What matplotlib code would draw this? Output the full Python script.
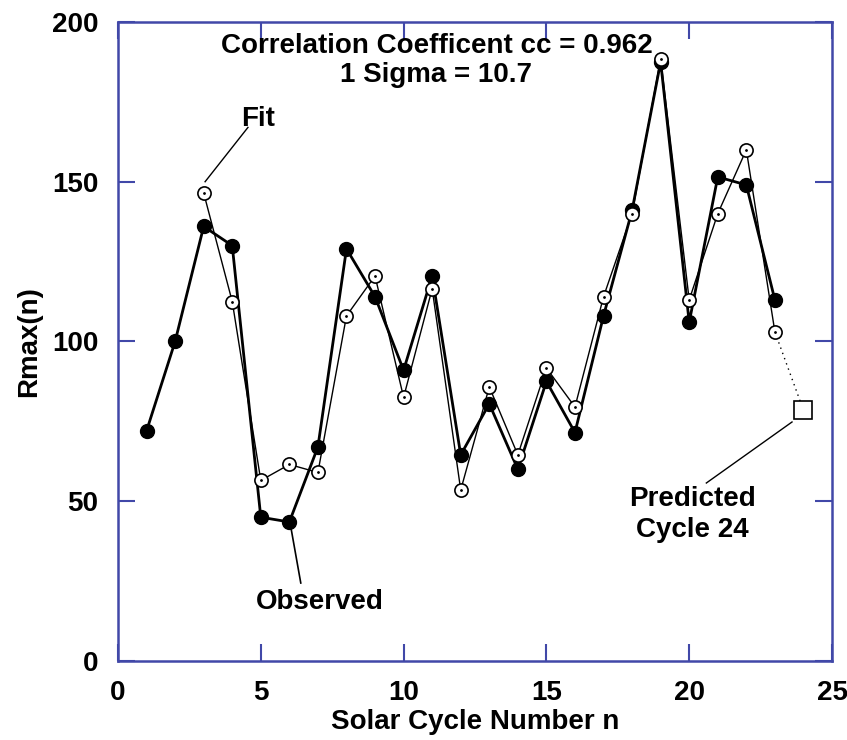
import numpy as np
import matplotlib
matplotlib.use("Agg")
import matplotlib.pyplot as plt

plt.rcParams['font.family'] = ['Liberation Sans', 'DejaVu Sans']
plt.rcParams['font.weight'] = 'bold'

# observed maximum sunspot number per cycle
obs_n = np.arange(1, 24)
obs_r = [72, 100, 136, 130, 45, 43.5, 67, 129, 114, 91, 120.5, 64.5, 80.5,
         60, 87.5, 71.5, 108, 141, 187.5, 106, 151.5, 149, 113]

# fitted values (start at cycle 3)
fit_n = np.arange(3, 24)
fit_r = [146.5, 112.5, 56.5, 61.5, 59, 108, 120.5, 82.5, 116.5, 53.5, 85.8,
         64.5, 91.7, 79.5, 114, 140, 188.5, 113, 140, 160, 103]

pred_n = 24
pred_r = 78.5

spine_col = '#4148a8'

fig = plt.figure(figsize=(8.47, 7.40), dpi=100)
ax = fig.add_axes([0.1393, 0.1068, 0.843, 0.8635])

ax.plot(obs_n, obs_r, color='black', lw=2, marker='o', ms=10,
        mfc='black', mec='black', zorder=3)
ax.plot(fit_n, fit_r, color='black', lw=1, marker='o', ms=9.5,
        mfc='white', mec='black', mew=1.2, zorder=4)
ax.plot(fit_n, fit_r, ls='none', marker='.', ms=2, color='black', zorder=5)
ax.plot([fit_n[-1], pred_n], [fit_r[-1], pred_r], color='black', lw=1,
        ls=(0, (1, 3)), zorder=2)
ax.plot([pred_n], [pred_r], marker='s', ms=13, mfc='white', mec='black',
        mew=1.2, zorder=4)

# annotation leader lines
ax.plot([3.05, 4.55], [150, 167], color='black', lw=1)
ax.plot([6.05, 6.4], [42, 24.4], color='black', lw=1.2)
ax.plot([23.6, 20.6], [74.8, 55.7], color='black', lw=1)

fs = 20
ax.text(4.9, 169.5, 'Fit', fontsize=fs, fontweight='bold', ha='center', va='center')
ax.text(7.05, 18.5, 'Observed', fontsize=fs, fontweight='bold', ha='center', va='center')
ax.text(20.1, 46.0, 'Predicted\nCycle 24', fontsize=fs, fontweight='bold',
        ha='center', va='center', linespacing=1.25)
ax.text(11.15, 192.5, 'Correlation Coefficent cc = 0.962', fontsize=fs,
        fontweight='bold', ha='center', va='center')
ax.text(11.15, 183.5, '1 Sigma = 10.7', fontsize=fs, fontweight='bold',
        ha='center', va='center')

ax.set_xlim(0, 25)
ax.set_ylim(0, 200)
ax.set_xticks([0, 5, 10, 15, 20, 25])
ax.set_yticks([0, 50, 100, 150, 200])
ax.tick_params(direction='in', length=12, width=1.5, color=spine_col,
               top=True, right=True, labelsize=fs)
ax.tick_params(axis='x', pad=14)
ax.tick_params(axis='y', pad=14)
for lab in ax.get_xticklabels() + ax.get_yticklabels():
    lab.set_fontweight('bold')
for sp in ax.spines.values():
    sp.set_color(spine_col)
    sp.set_linewidth(1.8)

ax.set_xlabel('Solar Cycle Number n', fontsize=fs, fontweight='bold', labelpad=2)
ax.set_ylabel('Rmax(n)', fontsize=fs, fontweight='bold', labelpad=7)

fig.savefig('out.png', dpi=100)
